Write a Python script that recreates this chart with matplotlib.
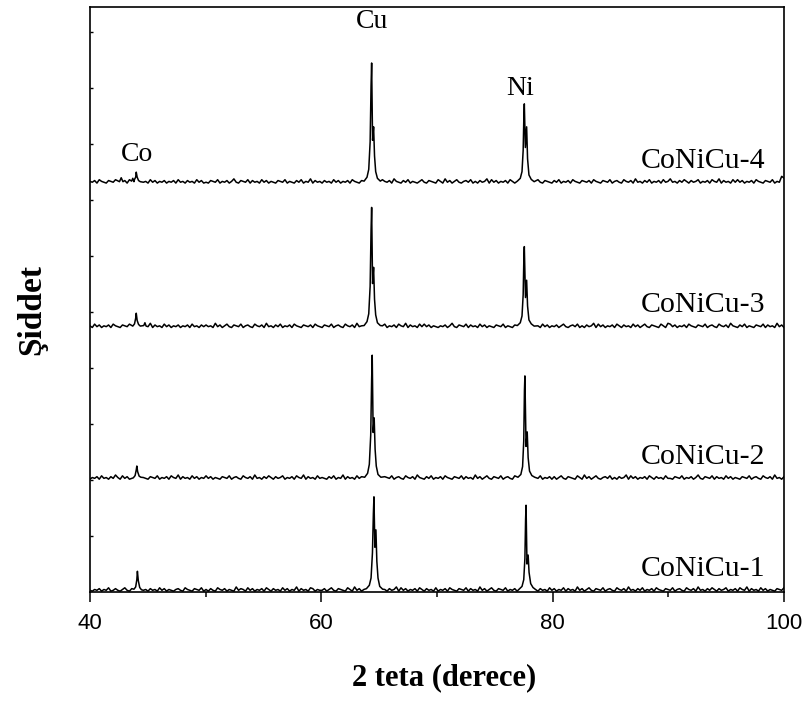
import numpy as np
import matplotlib.pyplot as plt

# --- data ---
samples = ['CoNiCu-1', 'CoNiCu-2', 'CoNiCu-3', 'CoNiCu-4']
offsets = [0, 200, 471, 729]

# background noise readings, one digit every 0.2 deg from 40 to 100
# (1 digit step = 1.5 counts)
bg_1 = ("21324132512421352143216231423152413213421532143251"
        "31421532413216243152413241531423152413261423154132"
        "24135214321531624135213425131423615241324153142315"
        "13241532143251423162413521432513241362143251423152"
        "41325142316241352143251342153241623142513241532143"
        "25134215324162314253142351324153261423152413214325")
bg_2 = ("13241523142631524132415321432513241532614231524132"
        "52413214325134215324162314253142351324153261423152"
        "32142513261423152413241532143251342153241632142513"
        "24153214325142316241352143251342153241623142513241"
        "41352143215316241352134251314236152413241531423152"
        "21432513241362143251423152413214325134215324162314")
bg_3 = ("31524132415321432513241532614231524132413241523142"
        "42316241352143251342153241623142513241532143241532"
        "14325134215324162314253142351324153261423152524132"
        "13241362143251423152413214325132142513261423152413"
        "24135213425131423615241324153142315241352143215316"
        "52413241532143251342153241632142513214325142316241")
bg_4 = ("32415321432513241532614231524132413241523142315241"
        "21432513241362143251423152413214325132142513261423"
        "14231524132415321432513421532416321425132135214321"
        "53162413521342513142361524132415314231524135214321"
        "42513241532143241532143251342153241623142513241523"
        "62314253142351324153261423152524132415321432513297")

# peak readings (2theta, counts) for Co, Cu and Ni reflections
pk_x_1 = [43.8, 43.95, 44.05, 44.1, 44.18, 44.3, 44.45,
          63.9, 64.15, 64.3, 64.42, 64.5, 64.55, 64.63, 64.72, 64.8, 64.9, 65.05, 65.3,
          77.1, 77.35, 77.5, 77.6, 77.66, 77.7, 77.78, 77.88, 77.96, 78.1, 78.3, 78.55]
pk_y_1 = [5, 9, 22, 37, 20, 8, 4,
          6, 12, 25, 70, 140, 170, 80, 111, 55, 25, 10, 5,
          5, 10, 22, 60, 130, 155, 50, 66, 35, 15, 8, 4]

pk_x_2 = [43.75, 43.9, 44.0, 44.05, 44.12, 44.25, 44.4,
          63.75, 64.0, 64.15, 64.27, 64.35, 64.4, 64.48, 64.57, 64.65, 64.75, 64.9, 65.15,
          77.0, 77.25, 77.4, 77.5, 77.56, 77.6, 77.7, 77.8, 77.88, 78.0, 78.2, 78.45]
pk_y_2 = [4, 8, 18, 25, 15, 7, 5,
          5, 12, 28, 80, 180, 223, 85, 111, 55, 25, 10, 5,
          5, 10, 24, 70, 160, 186, 60, 86, 40, 16, 8, 5]

pk_x_3 = [43.7, 43.85, 43.95, 44.0, 44.08, 44.2, 44.35, 44.65, 44.75, 44.85,
          63.7, 63.95, 64.1, 64.22, 64.3, 64.35, 64.43, 64.52, 64.6, 64.7, 64.85, 65.1,
          76.95, 77.2, 77.35, 77.45, 77.51, 77.55, 77.65, 77.75, 77.83, 77.95, 78.15, 78.4]
pk_y_3 = [4, 8, 18, 27, 14, 7, 4, 5, 10, 4,
          5, 12, 26, 75, 175, 216, 80, 109, 52, 24, 10, 5,
          5, 10, 22, 60, 125, 146, 55, 86, 40, 15, 8, 4]

pk_x_4 = [42.55, 42.7, 42.85, 43.6, 43.7, 43.8, 43.85, 43.95, 44.0, 44.08, 44.2, 44.35,
          63.7, 63.95, 64.1, 64.22, 64.3, 64.35, 64.43, 64.52, 64.6, 64.7, 64.85, 65.1,
          76.95, 77.2, 77.35, 77.45, 77.51, 77.55, 77.64, 77.75, 77.83, 77.95, 78.15, 78.4]
pk_y_4 = [4, 11, 4, 5, 10, 4, 8, 12, 21, 12, 6, 4,
          5, 12, 26, 75, 175, 216, 78, 102, 50, 22, 10, 5,
          5, 10, 22, 60, 120, 143, 65, 102, 45, 16, 8, 4]

backgrounds = [bg_1, bg_2, bg_3, bg_4]
peaks_x = [pk_x_1, pk_x_2, pk_x_3, pk_x_4]
peaks_y = [pk_y_1, pk_y_2, pk_y_3, pk_y_4]

peak_labels = ['Co', 'Cu', 'Ni']
peak_label_x = [44.1, 64.35, 77.2]
peak_label_y = [760, 996, 877]

tick_x = [40, 60, 80, 100]

plt.rcParams['font.family'] = ['Liberation Serif', 'DejaVu Serif']

fig = plt.figure(figsize=(8.07, 7.02), dpi=100)
ax = fig.add_axes([0.1115, 0.1567, 0.86, 0.8333])

for bg, px, py, off in zip(backgrounds, peaks_x, peaks_y, offsets):
    by = np.array([int(c) for c in bg], dtype=float) * 1.5
    bx = np.linspace(40, 100, len(by))
    px = np.array(px)
    py = np.array(py, dtype=float)
    # drop background readings sitting on a measured peak
    keep = np.min(np.abs(bx[:, None] - px[None, :]), axis=1) > 0.15
    xs = np.concatenate([bx[keep], px])
    ys = np.concatenate([by[keep], py])
    order = np.argsort(xs)
    ax.plot(xs[order], ys[order] + off, color='black', lw=1.1)

for name, off in zip(samples, offsets):
    ax.text(98.4, off + 18, name, ha='right', va='bottom', fontsize=21.5)

for lab, lx, ly in zip(peak_labels, peak_label_x, peak_label_y):
    ax.text(lx, ly, lab, ha='center', va='bottom', fontsize=20)

ax.set_xlim(40, 100)
ax.set_ylim(0, 1045)
ax.set_xticks(tick_x)
ax.set_xticks([50, 70, 90], minor=True)
ax.set_xticklabels([str(t) for t in tick_x], family='Liberation Sans', fontsize=16)
ax.set_yticks(np.arange(100, 1001, 100))
ax.set_yticklabels([])
ax.tick_params(axis='x', which='major', direction='out', length=7, width=1.1, pad=8)
ax.tick_params(axis='x', which='minor', direction='out', length=3.5, width=1.1)
ax.tick_params(axis='y', direction='in', length=2.5, width=1.0)

for s in ax.spines.values():
    s.set_linewidth(1.2)

ax.set_xlabel('2 teta (derece)', fontsize=22, fontweight='bold', labelpad=21)
ax.xaxis.label.set_x(0.511)
ax.set_ylabel('Şiddet', fontsize=24, fontweight='bold', labelpad=27)
ax.yaxis.label.set_y(0.483)

plt.savefig('out.png', dpi=100)
